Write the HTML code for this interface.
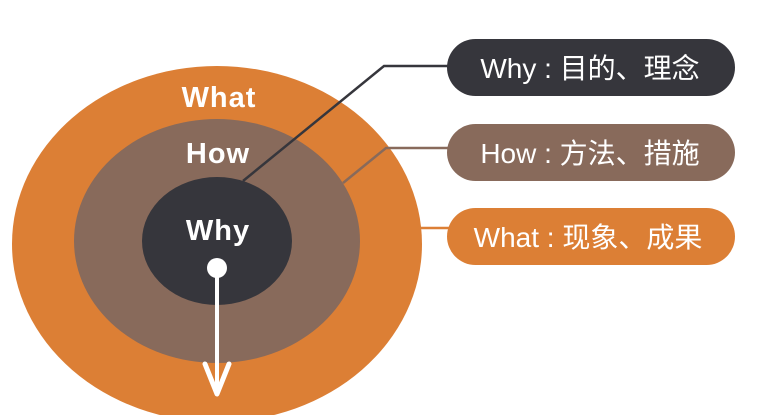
<!DOCTYPE html>
<html><head><meta charset="utf-8"><style>
html,body{margin:0;padding:0;background:#fff;width:765px;height:415px;overflow:hidden}
svg{display:block}
text{font-family:"Liberation Sans","Noto Sans CJK SC",sans-serif;fill:#fff}
</style></head><body>
<svg width="765" height="415" viewBox="0 0 765 415">
<ellipse cx="217" cy="244" rx="205" ry="178" fill="#DC7F35"/>
<ellipse cx="217" cy="241" rx="143" ry="122" fill="#886A5B"/>
<ellipse cx="217" cy="241" rx="75" ry="64" fill="#36363C"/>
<text x="219" y="107" font-size="29" font-weight="bold" text-anchor="middle" letter-spacing="1">What</text>
<text x="218" y="163" font-size="29" font-weight="bold" text-anchor="middle" letter-spacing="1">How</text>
<text x="218" y="240" font-size="29" font-weight="bold" text-anchor="middle" letter-spacing="1">Why</text>
<circle cx="217" cy="268" r="10" fill="#fff"/>
<line x1="217" y1="268" x2="217" y2="393" stroke="#fff" stroke-width="4"/>
<polyline points="205,364 217,394 229,364" fill="none" stroke="#fff" stroke-width="5" stroke-linejoin="round" stroke-linecap="round"/>
<polyline points="243,181 384,66 450,66" fill="none" stroke="#36363C" stroke-width="2.5"/>
<polyline points="343,183 386,148 450,148" fill="none" stroke="#886A5B" stroke-width="2.5"/>
<line x1="421" y1="228" x2="450" y2="228" stroke="#DC7F35" stroke-width="2.5"/>
<rect x="447" y="39" width="288" height="57" rx="28.5" fill="#36363C"/>
<rect x="447" y="124" width="288" height="57" rx="28.5" fill="#886A5B"/>
<rect x="447" y="208" width="288" height="57" rx="28.5" fill="#DC7F35"/>
<text x="590" y="78" font-size="28" text-anchor="middle">Why : 目的、理念</text>
<text x="590" y="163" font-size="28" text-anchor="middle">How : 方法、措施</text>
<text x="588" y="247" font-size="28" text-anchor="middle">What : 现象、成果</text>
</svg>
</body></html>
